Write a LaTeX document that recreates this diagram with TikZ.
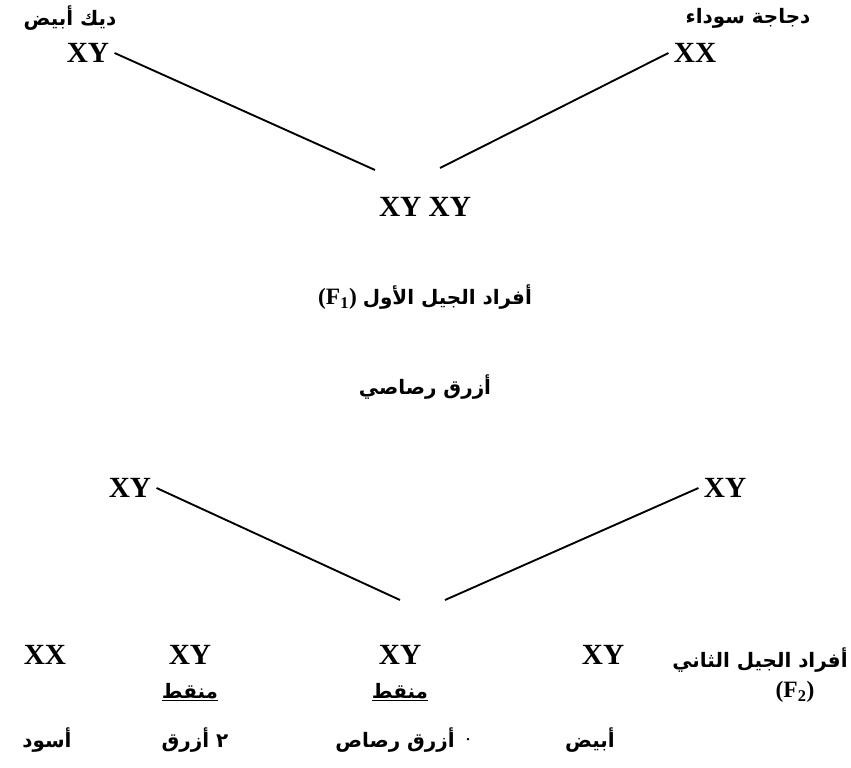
\documentclass[tikz,border=0pt]{standalone}
\usepackage{fontspec}
\setmainfont{Liberation Serif}
\newfontfamily\arabicfont[Script=Arabic]{DejaVu Sans}
\TeXXeTstate=1
\newcommand{\arlbl}[1]{{\arabicfont\bfseries\beginR #1\endR}}

\begin{document}
\begin{tikzpicture}[x=0.03cm,y=-0.03cm,
    gene/.style={font=\fontsize{25}{28}\selectfont\bfseries, inner sep=1pt},
    lbl/.style={font=\fontsize{17}{20}\selectfont, inner sep=1pt},
    cross/.style={line width=1.6pt}]
    \useasboundingbox (0,0) rectangle (851,768);
    % parents
    \node[lbl] (roo) at (70,18) {\arlbl{ديك أبيض}};
    \node[lbl] (hen) at (748,18) {\arlbl{دجاجة سوداء}};
    \node[gene] (pL) at (88,53) {XY};
    \node[gene] (pR) at (695,53) {XX};
    % first generation
    \node[gene] (fone) at (425,207) {XY XY};
    \coordinate (jL) at (375,170);
    \coordinate (jR) at (440,168);
    \draw[cross] (pL.east) ++(4,0) -- (jL);
    \draw[cross] (pR.west) ++(-4,0) -- (jR);
    \node[lbl] (fonetxt) at (425,297) {\fontsize{20}{22}\selectfont\bfseries(F\textsubscript{1}) \arlbl{\fontsize{17}{20}\selectfont أفراد الجيل الأول}};
    \node[lbl] (blue) at (425,387) {\arlbl{أزرق رصاصي}};
    % second cross
    \node[gene] (qL) at (130,488) {XY};
    \node[gene] (qR) at (725,488) {XY};
    \coordinate (kL) at (400,600);
    \coordinate (kR) at (445,600);
    \draw[cross] (qL.east) ++(4,0) -- (kL);
    \draw[cross] (qR.west) ++(-4,0) -- (kR);
    % second generation
    \node[gene] (gA) at (45,655) {XX};
    \node[gene] (gB) at (190,655) {XY};
    \node[gene] (gC) at (400,655) {XY};
    \node[gene] (gD) at (603,655) {XY};
    \node[lbl, anchor=east] (ftwotxt) at (849,660) {\arlbl{أفراد الجيل الثاني}};
    \node[lbl] (ftwo) at (795,692) {\fontsize{20}{22}\selectfont\bfseries(F\textsubscript{2})};
    \node[lbl] (dotB) at (190,692) {\underline{\arlbl{منقط}}};
    \node[lbl] (dotC) at (400,692) {\underline{\arlbl{منقط}}};
    \node[lbl] (cA) at (47,740) {\arlbl{أسود}};
    \node[lbl] (cB) at (195,740) {\arlbl{٢ أزرق}};
    \node[lbl] (cC) at (395,740) {\arlbl{أزرق رصاص}};
    \node[lbl] (stop) at (468,740) {.};
    \node[lbl] (cD) at (590,740) {\arlbl{أبيض}};
\end{tikzpicture}
\end{document}
